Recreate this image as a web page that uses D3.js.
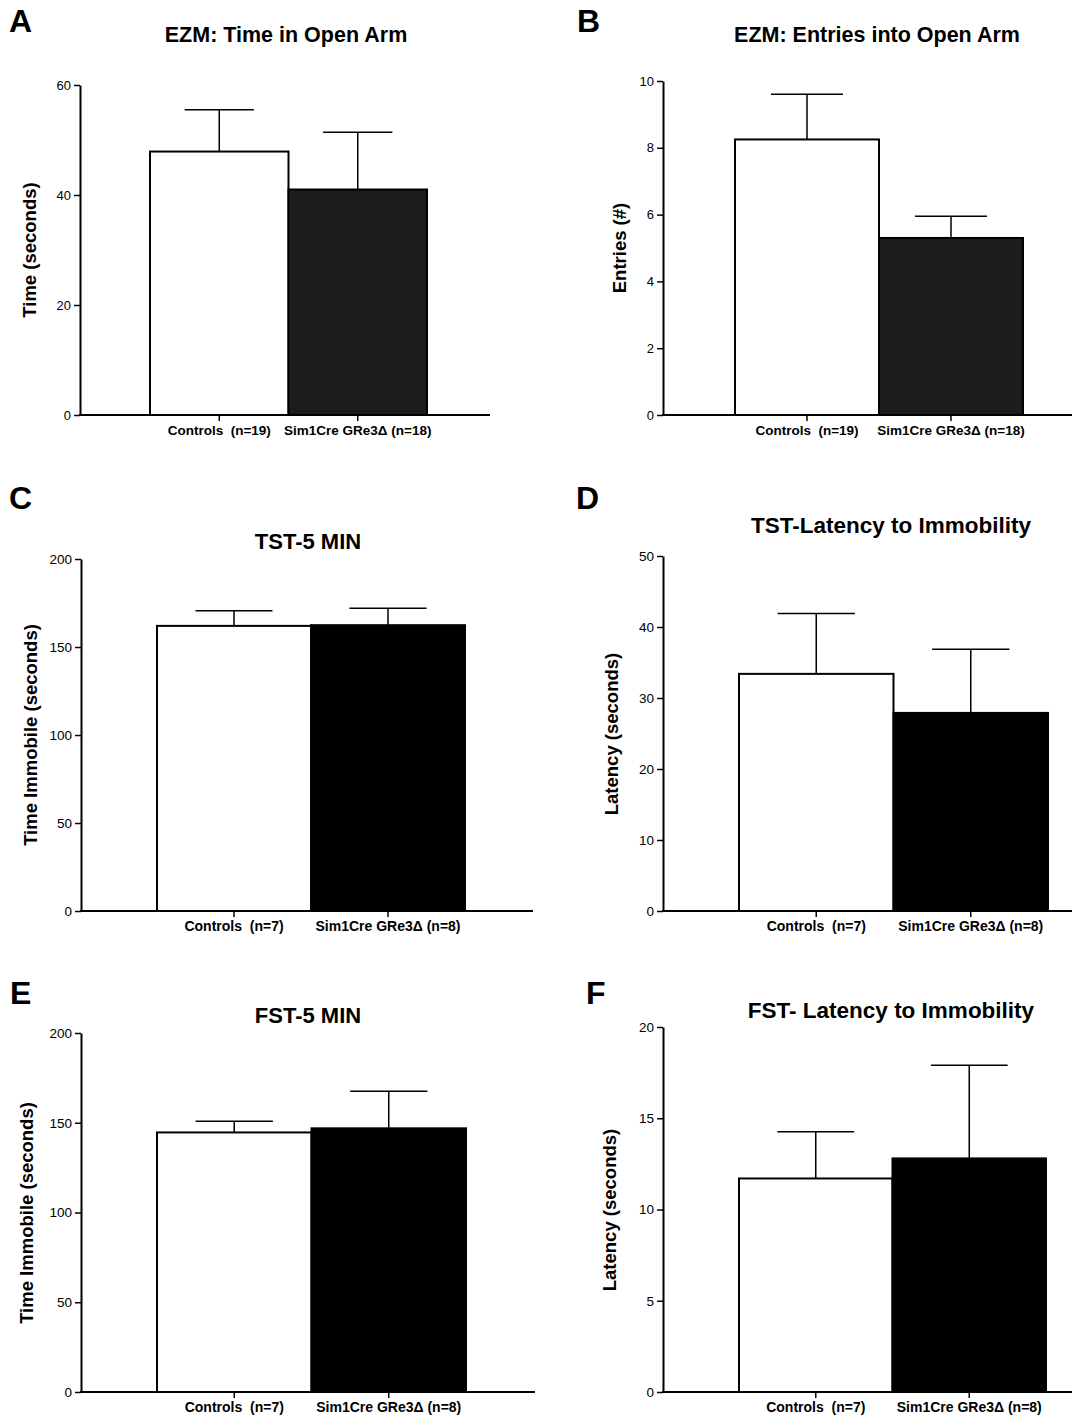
<!DOCTYPE html>
<html>
<head>
<meta charset="utf-8">
<script src="https://cdn.jsdelivr.net/npm/d3@7"></script>
<style>
  html, body { margin: 0; padding: 0; background: #fff; }
  svg { display: block; font-family: "Liberation Sans", Arial, Helvetica, sans-serif; }
  .cat text { white-space: pre; }
</style>
</head>
<body>
<svg id="fig" width="1072" height="1416"></svg>
<script>
// ---- data ----
const groupsEZM = ["Controls  (n=19)", "Sim1Cre GRe3Δ (n=18)"];
const groupsTST = ["Controls  (n=7)", "Sim1Cre GRe3Δ (n=8)"];

const panelLetters = ["A", "B", "C", "D", "E", "F"];
const panelTitles = [
  "EZM: Time in Open Arm",
  "EZM: Entries into Open Arm",
  "TST-5 MIN",
  "TST-Latency to Immobility",
  "FST-5 MIN",
  "FST- Latency to Immobility"
];
const yAxisTitles = [
  "Time (seconds)",
  "Entries (#)",
  "Time Immobile (seconds)",
  "Latency (seconds)",
  "Time Immobile (seconds)",
  "Latency (seconds)"
];

// group means and SEM (upper error bar)
const ezmTimeMean    = [47.9, 41.0];
const ezmTimeSem     = [7.6, 10.4];
const ezmEntriesMean = [8.25, 5.3];
const ezmEntriesSem  = [1.35, 0.65];
const tstTimeMean    = [162.0, 162.4];
const tstTimeSem     = [8.6, 9.6];
const tstLatMean     = [33.4, 27.9];
const tstLatSem      = [8.5, 8.95];
const fstTimeMean    = [144.6, 146.9];
const fstTimeSem     = [6.2, 20.6];
const fstLatMean     = [11.7, 12.8];
const fstLatSem      = [2.56, 5.1];

// y-axis tick values
const ezmTimeTicks    = [0, 20, 40, 60];
const ezmEntriesTicks = [0, 2, 4, 6, 8, 10];
const immobileTicks   = [0, 50, 100, 150, 200];
const tstLatTicks     = [0, 10, 20, 30, 40, 50];
const fstLatTicks     = [0, 5, 10, 15, 20];

// ---- panel table built from the arrays above ----
const panelData = [
  { groups: groupsEZM, mean: ezmTimeMean,    sem: ezmTimeSem,    ticks: ezmTimeTicks },
  { groups: groupsEZM, mean: ezmEntriesMean, sem: ezmEntriesSem, ticks: ezmEntriesTicks },
  { groups: groupsTST, mean: tstTimeMean,    sem: tstTimeSem,    ticks: immobileTicks },
  { groups: groupsTST, mean: tstLatMean,     sem: tstLatSem,     ticks: tstLatTicks },
  { groups: groupsTST, mean: fstTimeMean,    sem: fstTimeSem,    ticks: immobileTicks },
  { groups: groupsTST, mean: fstLatMean,     sem: fstLatSem,     ticks: fstLatTicks }
];

// ---- layout (pixel geometry of each panel) ----
const layout = [
  { axisX: 80,  yTop: 85,   yZero: 415,  xEnd: 490,  barL: 150, barR: 427,  titleX: 286, titleY: 42,   titleSize: 21.5,
    yLabX: 30,  yLabY: 250,  letterX: 9,   letterY: 32,   darkFill: "#1c1c1c", catSize: 13.5, tickSize: 13 },
  { axisX: 663, yTop: 81,   yZero: 415,  xEnd: 1072, barL: 735, barR: 1023, titleX: 877, titleY: 42,   titleSize: 21.5,
    yLabX: 620, yLabY: 248,  letterX: 577, letterY: 32,   darkFill: "#1c1c1c", catSize: 13.5, tickSize: 13 },
  { axisX: 81,  yTop: 559,  yZero: 911,  xEnd: 533,  barL: 157, barR: 465,  titleX: 308, titleY: 549,  titleSize: 22,
    yLabX: 31,  yLabY: 735,  letterX: 9,   letterY: 509,  darkFill: "#000", catSize: 14, tickSize: 13.5 },
  { axisX: 663, yTop: 556,  yZero: 911,  xEnd: 1072, barL: 739, barR: 1048, titleX: 891, titleY: 533,  titleSize: 22.5,
    yLabX: 612, yLabY: 734,  letterX: 576, letterY: 509,  darkFill: "#000", catSize: 14, tickSize: 13.5 },
  { axisX: 81,  yTop: 1033, yZero: 1392, xEnd: 535,  barL: 157, barR: 466,  titleX: 308, titleY: 1023, titleSize: 22,
    yLabX: 27,  yLabY: 1213, letterX: 10,  letterY: 1004, darkFill: "#000", catSize: 14, tickSize: 13.5 },
  { axisX: 663, yTop: 1027, yZero: 1392, xEnd: 1072, barL: 739, barR: 1046, titleX: 891, titleY: 1018, titleSize: 22.5,
    yLabX: 610, yLabY: 1210, letterX: 586, letterY: 1004, darkFill: "#000", catSize: 14, tickSize: 13.5 }
];

const svg = d3.select("#fig");

panelData.forEach((d, i) => {
  const L = layout[i];
  const g = svg.append("g");

  const y = d3.scaleLinear()
    .domain([0, d3.max(d.ticks)])
    .range([L.yZero, L.yTop]);

  const x = d3.scaleBand()
    .domain(d.groups)
    .range([L.barL, L.barR])
    .paddingInner(0)
    .paddingOuter(0);

  const rows = d.groups.map((name, k) => ({ name, mean: d.mean[k], sem: d.sem[k], k }));
  const capHalf = x.bandwidth() / 4;

  // error bars (upper only)
  const eb = g.append("g").attr("stroke", "#000").attr("stroke-width", 1.5).attr("fill", "none");
  eb.selectAll("line.stem").data(rows).join("line")
    .attr("class", "stem")
    .attr("x1", r => x(r.name) + x.bandwidth() / 2)
    .attr("x2", r => x(r.name) + x.bandwidth() / 2)
    .attr("y1", r => y(r.mean))
    .attr("y2", r => y(r.mean + r.sem));
  eb.selectAll("line.cap").data(rows).join("line")
    .attr("class", "cap")
    .attr("x1", r => x(r.name) + x.bandwidth() / 2 - capHalf)
    .attr("x2", r => x(r.name) + x.bandwidth() / 2 + capHalf)
    .attr("y1", r => y(r.mean + r.sem))
    .attr("y2", r => y(r.mean + r.sem));

  // bars
  g.append("g").selectAll("rect").data(rows).join("rect")
    .attr("x", r => x(r.name))
    .attr("y", r => y(r.mean))
    .attr("width", x.bandwidth())
    .attr("height", r => y(0) - y(r.mean))
    .attr("fill", r => r.k === 0 ? "#fff" : L.darkFill)
    .attr("stroke", "#000")
    .attr("stroke-width", 2);

  // y axis
  const ya = g.append("g")
    .attr("transform", `translate(${L.axisX},0)`)
    .call(d3.axisLeft(y).tickValues(d.ticks).tickSize(6).tickSizeOuter(0).tickPadding(3).tickFormat(d3.format("d")));
  ya.select(".domain").attr("stroke", "#000").attr("stroke-width", 2);
  ya.selectAll(".tick line").attr("stroke", "#000").attr("stroke-width", 1.5);
  ya.selectAll(".tick text")
    .attr("fill", "#000")
    .style("font-size", L.tickSize + "px")
    .style("font-family", "'Liberation Sans', Arial, sans-serif");

  // x axis: baseline runs from the y axis to the panel's right end
  g.append("line")
    .attr("x1", L.axisX - 1).attr("x2", L.xEnd)
    .attr("y1", L.yZero).attr("y2", L.yZero)
    .attr("stroke", "#000").attr("stroke-width", 2.2);

  const xa = g.append("g")
    .attr("class", "cat")
    .attr("transform", `translate(0,${L.yZero})`)
    .call(d3.axisBottom(x).tickSize(6).tickSizeOuter(0).tickPadding(4));
  xa.select(".domain").remove();
  xa.selectAll(".tick line").attr("stroke", "#000").attr("stroke-width", 1.5);
  xa.selectAll(".tick text")
    .attr("fill", "#000")
    .style("font-size", L.catSize + "px")
    .style("font-weight", "bold")
    .style("font-family", "'Liberation Sans', Arial, sans-serif");

  // y-axis title
  g.append("text")
    .attr("transform", `translate(${L.yLabX},${L.yLabY}) rotate(-90)`)
    .attr("text-anchor", "middle")
    .attr("dy", "0.35em")
    .style("font-size", "18.5px")
    .style("font-weight", "bold")
    .text(yAxisTitles[i]);

  // panel title
  g.append("text")
    .attr("x", L.titleX).attr("y", L.titleY)
    .attr("text-anchor", "middle")
    .style("font-size", L.titleSize + "px")
    .style("font-weight", "bold")
    .text(panelTitles[i]);

  // panel letter
  g.append("text")
    .attr("x", L.letterX).attr("y", L.letterY)
    .style("font-size", "32px")
    .style("font-weight", "bold")
    .text(panelLetters[i]);
});
</script>
</body>
</html>
